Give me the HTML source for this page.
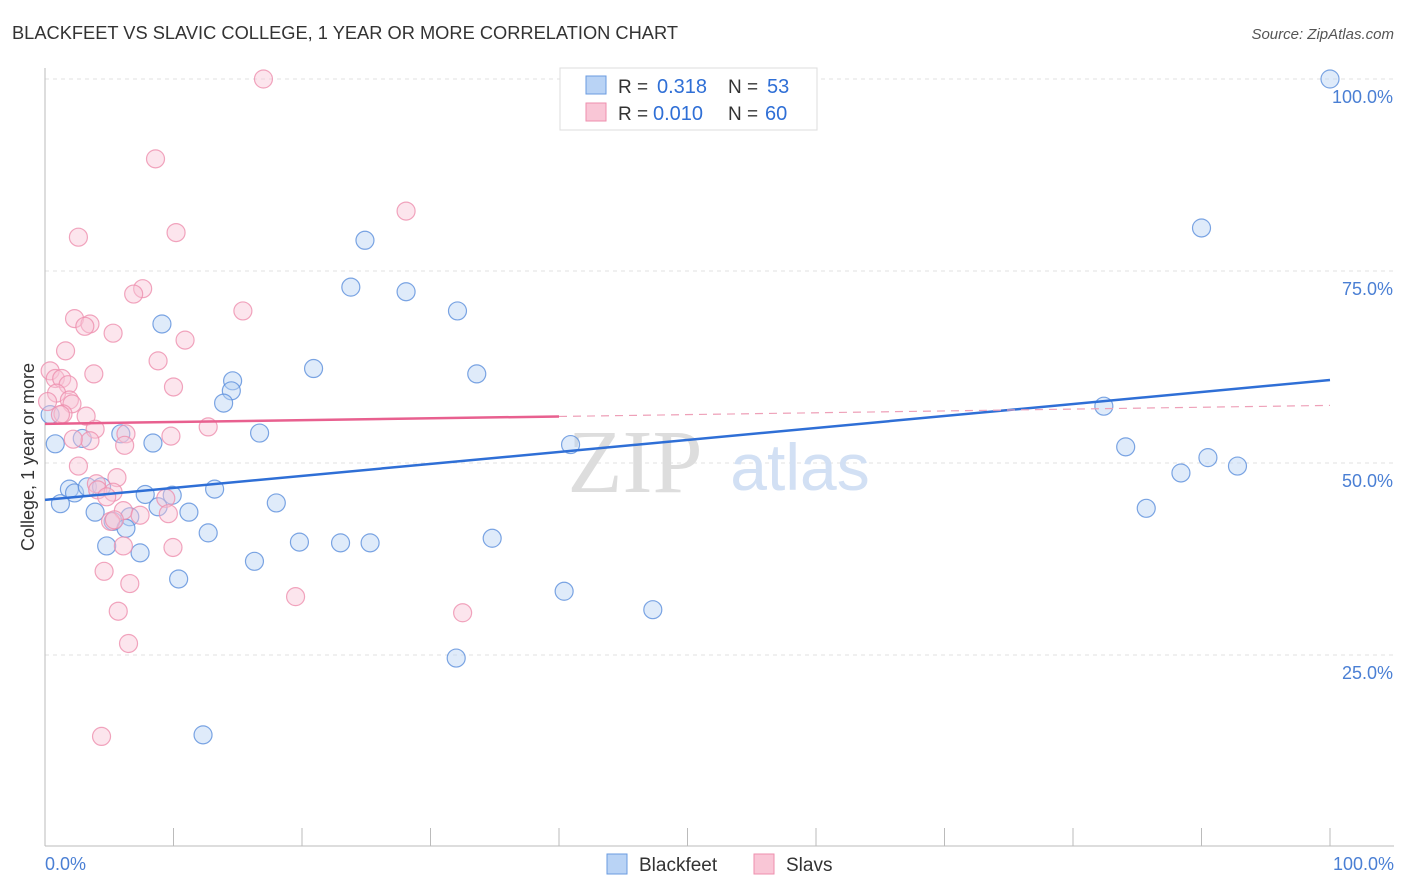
<!DOCTYPE html>
<html><head><meta charset="utf-8"><style>
body{margin:0;background:#fff;font-family:"Liberation Sans",sans-serif}
</style></head><body>
<svg width="1406" height="892" style="position:absolute;left:0;top:0">
<text x="12" y="39" font-size="18" fill="#333" textLength="666" lengthAdjust="spacingAndGlyphs">BLACKFEET VS SLAVIC COLLEGE, 1 YEAR OR MORE CORRELATION CHART</text>
<text x="1394" y="39" font-size="15" fill="#555" font-style="italic" text-anchor="end">Source: ZipAtlas.com</text>
<g id="grid"></g>
<line x1="45" y1="68" x2="45" y2="846" stroke="#bbb"/>
<line x1="45" y1="846" x2="1394" y2="846" stroke="#bbb"/>
<text x="635" y="492" font-size="90" fill="#ddd" font-family="Liberation Serif" text-anchor="middle">ZIP</text>
<text x="800" y="490" font-size="66" fill="#d2e0f4" text-anchor="middle">atlas</text>
<text transform="translate(34,457) rotate(-90)" font-size="18" fill="#333" text-anchor="middle">College, 1 year or more</text>
<text x="45" y="870" font-size="18" fill="#4a7fd4">0.0%</text>
<text x="1394" y="870" font-size="18" fill="#4a7fd4" text-anchor="end">100.0%</text>
<g id="marks"></g>
<g>
<rect x="560" y="68" width="257" height="62" fill="#fff" stroke="#ddd"/>
<rect x="586" y="76" width="20" height="18" fill="#b9d3f5" stroke="#6a9be0"/>
<rect x="586" y="103" width="20" height="18" fill="#f9c6d6" stroke="#ee8fae"/>
<text x="618" y="93" font-size="19" fill="#333">R =</text>
<text x="657" y="93" font-size="20" fill="#2f6fd6">0.318</text>
<text x="728" y="93" font-size="19" fill="#333">N =</text>
<text x="767" y="93" font-size="20" fill="#2f6fd6">53</text>
<text x="618" y="120" font-size="19" fill="#333">R =</text>
<text x="653" y="120" font-size="20" fill="#2f6fd6">0.010</text>
<text x="728" y="120" font-size="19" fill="#333">N =</text>
<text x="765" y="120" font-size="20" fill="#2f6fd6">60</text>
</g>
<g>
<rect x="607" y="854" width="20" height="20" fill="#b9d3f5" stroke="#6a9be0"/>
<text x="639" y="871" font-size="19" fill="#333">Blackfeet</text>
<rect x="754" y="854" width="20" height="20" fill="#f9c6d6" stroke="#ee8fae"/>
<text x="786" y="871" font-size="19" fill="#333">Slavs</text>
</g>
</svg>
<script>
const yTicks=[25,50,75,100];
const xTicks=[0,10,20,30,40,50,60,70,80,90,100];
const blackfeetX=[100,90,24.9,23.8,28.1,32.1,9.1,20.9,33.6,14.6,14.5,13.9,82.4,0.8,5.9,2.9,8.4,16.7,40.9,84.1,90.5,92.8,88.4,1.9,2.3,3.3,4.4,13.2,9.9,7.8,1.2,18,8.8,85.7,3.9,11.2,6.6,5.3,6.3,12.7,34.8,19.8,23,25.3,4.8,7.4,16.3,10.4,40.4,47.3,32,12.3,0.4];
const blackfeetY=[100,80.6,79,72.9,72.3,69.8,68.1,62.3,61.6,60.7,59.4,57.8,57.4,52.5,53.8,53.2,52.6,53.9,52.4,52.1,50.7,49.6,48.7,46.6,46.1,46.9,46.9,46.6,45.8,45.9,44.7,44.8,44.3,44.1,43.6,43.6,43,42.4,41.5,40.9,40.2,39.7,39.6,39.6,39.2,38.3,37.2,34.9,33.3,30.9,24.6,14.6,56.3];
const slavsX=[17,8.6,28.1,10.2,2.6,7.6,6.9,15.4,2.3,3.5,3.1,5.3,10.9,1.6,8.8,3.8,0.4,0.8,1.3,1.8,10,0.9,1.9,2.1,1.4,3.2,1.2,3.9,12.7,6.3,9.8,6.2,3.5,2.2,2.6,5.6,4,4.1,5.3,4.8,9.4,6.1,7.4,9.6,5.1,5.4,6.1,9.96,4.6,6.6,19.5,5.7,32.5,6.5,4.4,0.2];
const slavsY=[100,89.6,82.8,80,79.4,72.7,72,69.8,68.8,68.1,67.8,66.9,66,64.6,63.3,61.6,62,61,61,60.2,59.9,59.1,58.2,57.7,56.4,56.1,56.3,54.4,54.7,53.8,53.5,52.3,52.9,53.1,49.6,48.1,47.3,46.5,46.2,45.6,45.4,43.8,43.2,43.4,42.4,42.6,39.2,39,35.9,34.3,32.6,30.7,30.5,26.5,14.4,58];
const blackfeetTrend=[45.2,60.8];
const slavsTrend=[55.1,57.5];
const sx=v=>45+v*12.85, sy=v=>847-v*7.68;
const NS='http://www.w3.org/2000/svg';
const grid=document.getElementById('grid'), marks=document.getElementById('marks');
function mk(t,a,p){const e=document.createElementNS(NS,t);for(const k in a)e.setAttribute(k,a[k]);p.appendChild(e);return e;}
yTicks.forEach(t=>{
 const l=mk('line',{x1:45,x2:1394,y1:sy(t),y2:sy(t),stroke:'#e2e2e2','stroke-dasharray':'4,4'},grid);
 
 
 const tx=mk('text',{x:1393,y:sy(t)+24,'font-size':18,fill:'#4a7fd4','text-anchor':'end'},grid);
 tx.textContent=t.toFixed(1)+'%';
 
 
});
xTicks.forEach(t=>{
 const l=mk('line',{x1:sx(t),x2:sx(t),y1:828,y2:846,stroke:'#bbb'},grid);
 
 
});
function pts(X,Y,fill,stroke,name){X.forEach((x,i)=>{
 const c=mk('circle',{cx:sx(x),cy:sy(Y[i]),r:9,fill:fill,'fill-opacity':0.45,stroke:stroke,'stroke-opacity':0.8,'stroke-width':1.2},marks);
 
 
});}
pts(blackfeetX,blackfeetY,'#b9d3f5','#5b8fdc','blackfeet-point');
pts(slavsX,slavsY,'#f9c6d6','#ee8fae','slavs-point');
let l=mk('line',{x1:sx(0),y1:sy(blackfeetTrend[0]),x2:sx(100),y2:sy(blackfeetTrend[1]),stroke:'#2f6fd6','stroke-width':2.5},marks);


const sm=slavsTrend[0]+(slavsTrend[1]-slavsTrend[0])*0.4;
l=mk('line',{x1:sx(0),y1:sy(slavsTrend[0]),x2:sx(40),y2:sy(sm),stroke:'#e8608f','stroke-width':2.5},marks);


l=mk('line',{x1:sx(40),y1:sy(sm),x2:sx(100),y2:sy(slavsTrend[1]),stroke:'#eea0b8','stroke-width':1.2,'stroke-dasharray':'8,6'},marks);


</script>
</body></html>
